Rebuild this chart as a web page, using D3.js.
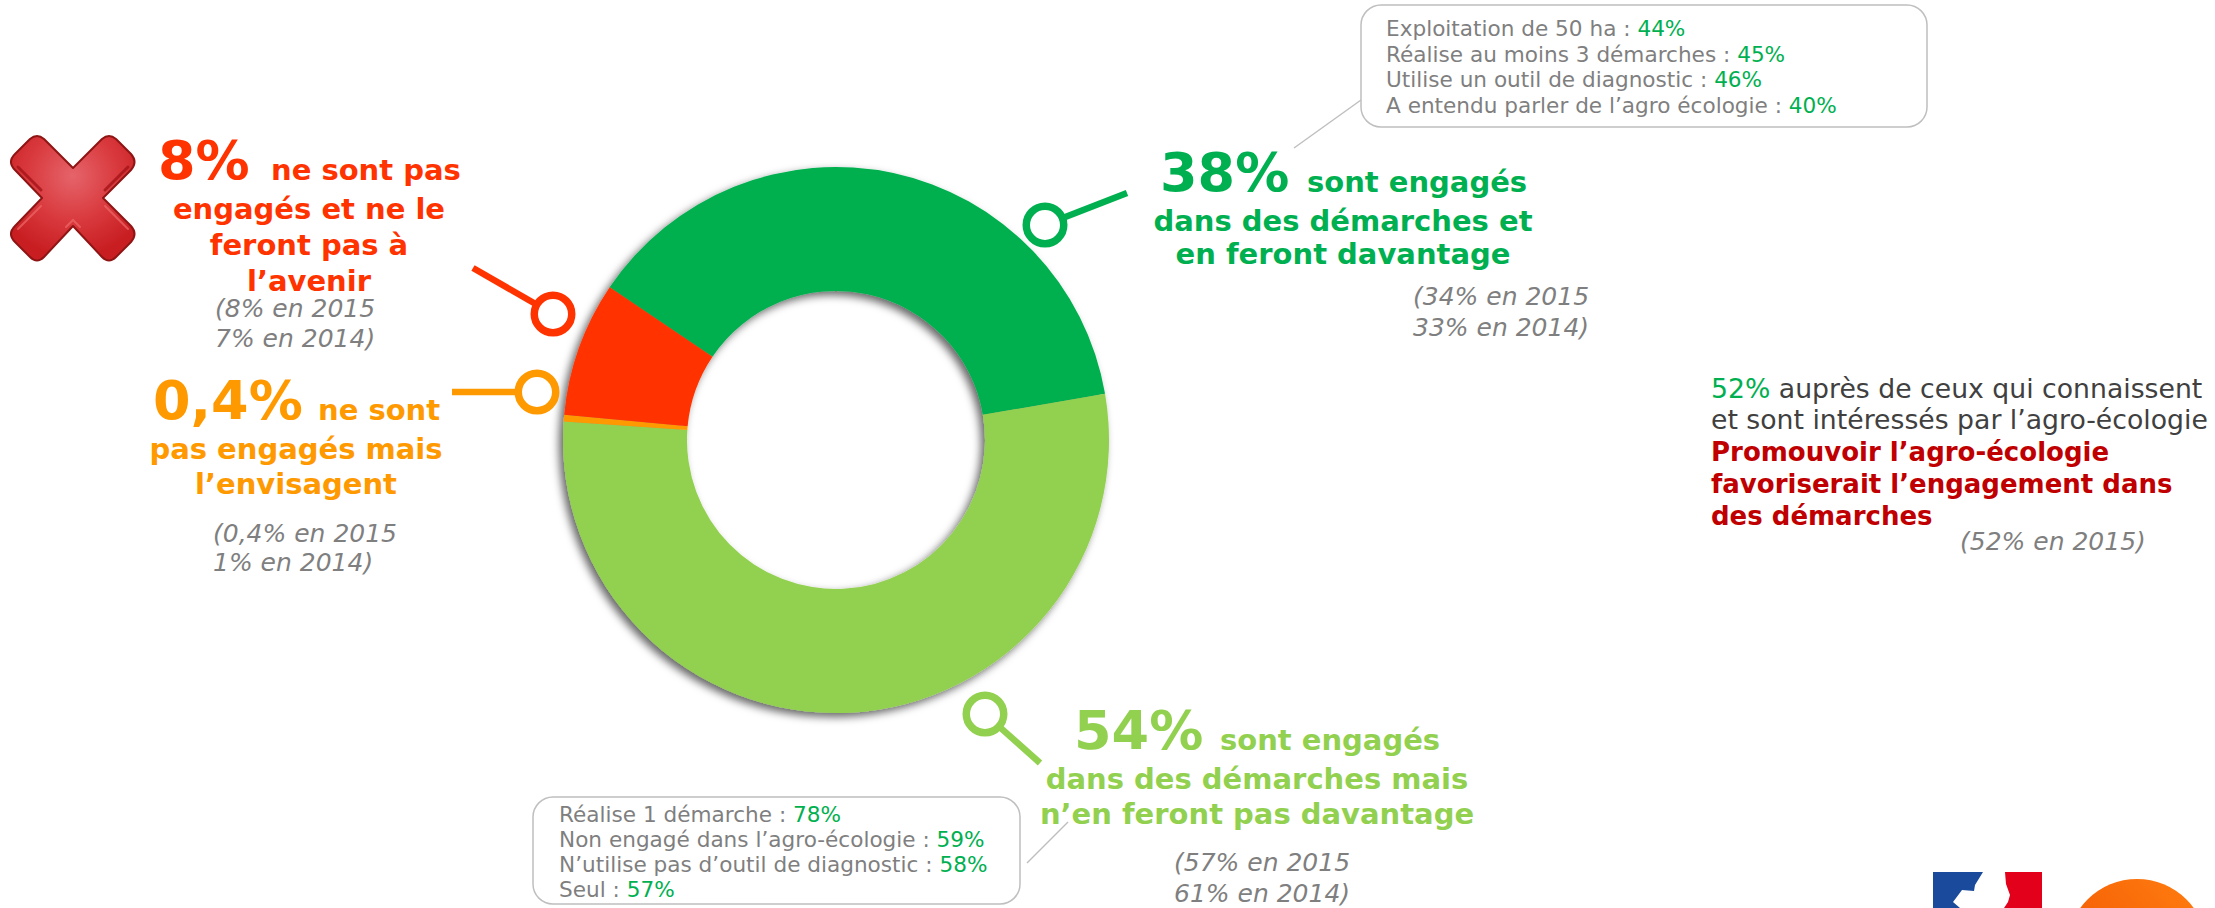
<!DOCTYPE html>
<meta charset="utf-8">
<style>
  html, body { margin: 0; padding: 0; background: #fff; overflow: hidden; }
  text { font-family: "DejaVu Sans", Verdana, sans-serif; }
</style>

<!-- Load d3.js -->
<script src="https://d3js.org/d3.v7.min.js"></script>

<div id="chart"></div>

<script>
  // values
  var segments = ["Engagés, en feront davantage", "Engagés, n'en feront pas davantage", "Pas engagés, envisagent", "Pas engagés, ne feront pas"];
  var shares = [38, 54, 0.4, 8];

  var engagedMore = ["dans des démarches et", "en feront davantage"];
  var engagedMoreHistory = ["(34% en 2015", "33% en 2014)"];
  var engagedOnly = ["dans des démarches mais", "n’en feront pas davantage"];
  var engagedOnlyHistory = ["(57% en 2015", "61% en 2014)"];
  var notEver = ["engagés et ne le", "feront pas à", "l’avenir"];
  var notEverHistory = ["(8% en 2015", "7% en 2014)"];
  var notYet = ["pas engagés mais", "l’envisagent"];
  var notYetHistory = ["(0,4% en 2015", "1% en 2014)"];

  var topBoxLabels = ["Exploitation de 50 ha : ", "Réalise au moins 3 démarches : ", "Utilise un outil de diagnostic : ", "A entendu parler de l’agro écologie : "];
  var topBoxValues = ["44%", "45%", "46%", "40%"];
  var bottomBoxLabels = ["Réalise 1 démarche : ", "Non engagé dans l’agro-écologie : ", "N’utilise pas d’outil de diagnostic : ", "Seul : "];
  var bottomBoxValues = ["78%", "59%", "58%", "57%"];

  var green = "#00b050", lightGreen = "#92d050", orange = "#ff9900", red = "#ff3300", grey = "#7f7f7f";

  var width = 2215, height = 908;

  var svg = d3.select("#chart")
      .append("svg")
      .attr("width", width)
      .attr("height", height)
      .style("display", "block");

  var defs = svg.append("defs");

  // shadow falls down and to the left, also into the hole
  var shadow = defs.append("filter").attr("id", "donutShadow")
      .attr("x", "-10%").attr("y", "-10%").attr("width", "120%").attr("height", "120%");
  shadow.append("feDropShadow")
      .attr("dx", -4).attr("dy", 4).attr("stdDeviation", 4)
      .attr("flood-color", "#000").attr("flood-opacity", 0.6);

  var crossFill = defs.append("radialGradient").attr("id", "crossFill")
      .attr("cx", "50%").attr("cy", "32%").attr("r", "65%");
  crossFill.append("stop").attr("offset", "0%").attr("stop-color", "#e5646a");
  crossFill.append("stop").attr("offset", "55%").attr("stop-color", "#d93a3e");
  crossFill.append("stop").attr("offset", "100%").attr("stop-color", "#c81e22");

  var orangeFill = defs.append("linearGradient").attr("id", "orangeFill")
      .attr("x1", 0).attr("y1", 1).attr("x2", 1).attr("y2", 0);
  orangeFill.append("stop").attr("offset", "0%").attr("stop-color", "#f04e00");
  orangeFill.append("stop").attr("offset", "100%").attr("stop-color", "#ff7f10");

  // Donut
  var pie = d3.pie()
      .sort(null)
      .startAngle(-56 * Math.PI / 180)
      .endAngle(304 * Math.PI / 180);

  var arc = d3.arc().innerRadius(149).outerRadius(273);

  var color = d3.scaleOrdinal()
      .domain(segments)
      .range([green, lightGreen, orange, red]);

  svg.append("g")
      .attr("transform", "translate(836,440)")
      .attr("filter", "url(#donutShadow)")
      .selectAll("path")
      .data(pie(shares))
      .enter()
      .append("path")
      .attr("d", arc)
      .style("fill", function (d, i) { return color(segments[i]); });

  // Pin: ring + stem
  function pin(cx, cy, x2, y2, col) {
    var a = Math.atan2(y2 - cy, x2 - cx);
    svg.append("line")
        .attr("x1", cx + 19 * Math.cos(a)).attr("y1", cy + 19 * Math.sin(a))
        .attr("x2", x2).attr("y2", y2)
        .style("stroke", col).style("stroke-width", 6.5);
    svg.append("circle")
        .attr("cx", cx).attr("cy", cy).attr("r", 18.75)
        .style("fill", "#fff").style("stroke", col).style("stroke-width", 7.5);
  }
  pin(1045, 225, 1127, 193, green);
  pin(985, 714, 1040, 763, lightGreen);
  pin(553, 314, 473, 268, red);
  pin(537, 392, 452, 392, orange);

  // Big percent + words on the same baseline
  function headline(x, y, big, x2, small, col) {
    svg.append("text").attr("x", x).attr("y", y)
        .style("font-size", "54px").style("font-weight", "bold").style("fill", col).text(big);
    svg.append("text").attr("x", x2).attr("y", y + 1)
        .style("font-size", "29px").style("font-weight", "bold").style("fill", col).text(small);
  }

  function centeredLines(lines, x, ys, col) {
    svg.append("g").selectAll("text")
        .data(lines)
        .enter()
        .append("text")
        .attr("x", x)
        .attr("y", function (d, i) { return ys[i]; })
        .attr("text-anchor", "middle")
        .style("font-size", "29px").style("font-weight", "bold").style("fill", col)
        .text(function (d) { return d; });
  }

  function history(lines, x, ys) {
    svg.append("g").selectAll("text")
        .data(lines)
        .enter()
        .append("text")
        .attr("x", x)
        .attr("y", function (d, i) { return ys[i]; })
        .style("font-size", "25px").style("font-style", "italic").style("fill", grey)
        .text(function (d) { return d; });
  }

  headline(1160, 191, "38%", 1307, "sont engagés", green);
  centeredLines(engagedMore, 1343, [231, 264], green);
  history(engagedMoreHistory, 1413, [305, 336]);

  headline(1074, 749, "54%", 1220, "sont engagés", lightGreen);
  centeredLines(engagedOnly, 1257, [789, 824], lightGreen);
  history(engagedOnlyHistory, 1174, [871, 902]);

  headline(158, 179, "8%", 271, "ne sont pas", red);
  centeredLines(notEver, 309, [219, 255, 291], red);
  history(notEverHistory, 215, [317, 347]);

  headline(153, 419, "0,4%", 318, "ne sont", orange);
  centeredLines(notYet, 296, [459, 494], orange);
  history(notYetHistory, 213, [542, 571]);

  // Callout boxes
  function callout(bx, by, bw, bh, tx, ys, labels, values, lx1, ly1, lx2, ly2) {
    svg.append("line")
        .attr("x1", lx1).attr("y1", ly1).attr("x2", lx2).attr("y2", ly2)
        .style("stroke", "#bfbfbf").style("stroke-width", 1.5);
    svg.append("rect")
        .attr("x", bx).attr("y", by).attr("width", bw).attr("height", bh)
        .attr("rx", 20).attr("ry", 20)
        .style("fill", "#fff").style("stroke", "#bfbfbf").style("stroke-width", 1.5);
    var rows = svg.append("g").selectAll("text")
        .data(labels)
        .enter()
        .append("text")
        .attr("x", tx)
        .attr("y", function (d, i) { return ys[i]; })
        .style("font-size", "21.6px");
    rows.append("tspan").style("fill", grey).text(function (d) { return d; });
    rows.append("tspan").style("fill", green).text(function (d, i) { return values[i]; });
  }
  callout(1361, 5, 566, 122, 1386, [36, 62, 87, 113], topBoxLabels, topBoxValues, 1294, 148, 1361, 100);
  callout(533, 797, 487, 107, 559, [822, 847, 872, 897], bottomBoxLabels, bottomBoxValues, 1068, 822, 1027, 863);

  // Note on the right
  var note = svg.append("g").style("font-size", "26.7px");
  var first = note.append("text").attr("x", 1711).attr("y", 398);
  first.append("tspan").style("fill", green).text("52%");
  first.append("tspan").style("fill", "#404040").text(" auprès de ceux qui connaissent");
  note.append("text").attr("x", 1711).attr("y", 429).style("fill", "#404040")
      .text("et sont intéressés par l’agro-écologie");
  note.selectAll(".promo")
      .data(["Promouvoir l’agro-écologie", "favoriserait l’engagement dans", "des démarches"])
      .enter()
      .append("text")
      .attr("class", "promo")
      .attr("x", 1711)
      .attr("y", function (d, i) { return 461 + i * 32; })
      .style("font-size", "26px").style("font-weight", "bold").style("fill", "#c00000")
      .text(function (d) { return d; });
  history(["(52% en 2015)"], 1960, [550]);

  // Red cross icon
  svg.append("path")
      .attr("d", "M30 139Q37 133 44 139L73 168L102 139Q109 133 116 139L131 154Q138 162 131 170L103 198L131 226Q138 234 131 242L116 257Q109 264 102 257L73 226L44 257Q37 264 30 257L15 242Q7 234 15 226L42 198L15 170Q7 162 15 154Z")
      .style("fill", "url(#crossFill)")
      .style("stroke", "#8f1414").style("stroke-width", 2).style("stroke-linejoin", "round");
  svg.append("path")
      .attr("d", "M18 167L41 190M128 167L105 190")
      .style("fill", "none").style("stroke", "#a01216").style("stroke-width", 3).style("stroke-linecap", "round").style("opacity", 0.75);
  svg.append("path")
      .attr("d", "M18 229L41 206M128 229L105 206M66 227L73 220L80 227")
      .style("fill", "none").style("stroke", "#ee6a6a").style("stroke-width", 2).style("stroke-linecap", "round").style("opacity", 0.7);

  // Logos at the bottom right, cut by the page edge
  svg.append("rect").attr("x", 1933).attr("y", 872).attr("width", 50).attr("height", 36).style("fill", "#1a4a9c");
  svg.append("rect").attr("x", 2003).attr("y", 872).attr("width", 39).attr("height", 36).style("fill", "#e2001a");
  svg.append("path")
      .attr("d", "M1983 872L1975 885L1974 891L1962 890L1953 902L1960 908L2004 908L2008 902L2010 895L2006 884L2005 872Z")
      .style("fill", "#fff");
  svg.append("circle").attr("cx", 2137).attr("cy", 949).attr("r", 70).style("fill", "url(#orangeFill)");
</script>
